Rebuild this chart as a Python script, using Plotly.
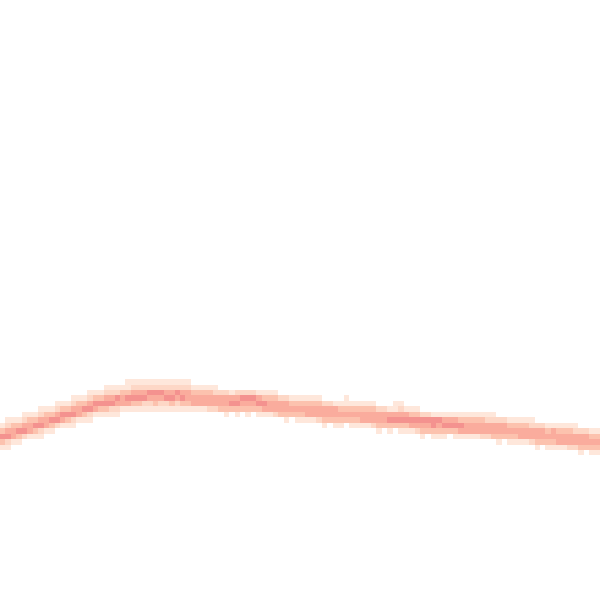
import plotly.graph_objects as go

# Grid of density cells (110 x 110)
n_cols = 110
n_rows = 110

# Row (from top) of the band centre for each column
band_center_row = (
    [78, 78, 77, 77, 77, 76, 76, 76, 75, 75, 75, 74, 74, 74, 73, 73, 73,
     72, 72, 72, 72, 72]
    + [71] * 18            # columns 22-39
    + [72] * 11            # columns 40-50
    + [73] * 8             # columns 51-58
    + [74] * 10            # columns 59-68
    + [75] * 8             # columns 69-76
    + [76] * 14            # columns 77-90
    + [77] * 7             # columns 91-97
    + [78] * 8             # columns 98-105
    + [79] * 4             # columns 106-109
)

# Density level (0 = empty, 1..5) for rows centre-3 .. centre+3 of each column
band_levels = [
    # columns 0-21 (rising part)
    "0135310", "1245210", "0134410", "0135310", "1245200", "0134410",
    "0135310", "1245210", "0134410", "0135310", "1245200", "0135410",
    "0135310", "1245210", "0134410", "0135310", "1245210", "0135410",
    "0135310", "1245310", "1245210", "1254210",
    # columns 22-39 (crest)
    "0134410", "1135410", "1245310", "1245310", "1245210", "1254210",
    "1254310", "1254210", "1245210", "1245310", "1254210", "1245310",
    "1244310", "0134410", "0134410", "0134410", "0134420", "0124420",
    # columns 40-50
    "0244300", "0244310", "0145300", "0245310", "0254300", "0254310",
    "0254300", "0145310", "0135410", "0134410", "0134420",
    # columns 51-58
    "0244300", "0244310", "0134300", "0134310", "0134310", "0134410",
    "0134410", "0134420",
    # columns 59-68
    "0244310", "0244300", "0144310", "0134310", "1134300", "0134310",
    "0134310", "0134410", "0134410", "0134420",
    # columns 69-76
    "0244310", "0244300", "0145310", "1145300", "1245310", "0145310",
    "0135410", "0135420",
    # columns 77-90
    "0254310", "0254300", "0155310", "0154310", "0145310", "0145300",
    "0145310", "0135410", "0134410", "0134410", "0134410", "0134420",
    "0124420", "0124430",
    # columns 91-97
    "0244310", "0244300", "0134310", "0134310", "0134410", "0134410",
    "0124420",
    # columns 98-105
    "0244310", "0244300", "0134310", "0144310", "0134410", "0134410",
    "0134420", "0124420",
    # columns 106-109
    "0244310", "0244300", "0134310", "0134310",
]

level_colors = [
    "rgb(254,231,219)",
    "rgb(253,215,198)",
    "rgb(252,194,174)",
    "rgb(250,172,157)",
    "rgb(244,146,143)",
]

z = [[None] * n_cols for _ in range(n_rows)]
for c, (centre, levels) in enumerate(zip(band_center_row, band_levels)):
    for k, ch in enumerate(levels):
        v = int(ch)
        r = centre - 3 + k
        if v > 0 and 0 <= r < n_rows:
            z[r][c] = v

colorscale = [[i / (len(level_colors) - 1), col] for i, col in enumerate(level_colors)]

fig = go.Figure(
    go.Heatmap(
        z=z,
        x=list(range(n_cols)),
        y=list(range(n_rows)),
        colorscale=colorscale,
        zmin=1,
        zmax=5,
        showscale=False,
        hoverongaps=False,
    )
)

fig.update_layout(
    width=600,
    height=600,
    margin=dict(l=0, r=0, t=0, b=0),
    paper_bgcolor="white",
    plot_bgcolor="white",
    xaxis=dict(visible=False, range=[-0.5, n_cols - 0.5]),
    yaxis=dict(visible=False, range=[n_rows - 2.0, -2.0]),
)

fig.write_html(
    "out.html",
    config={"displayModeBar": False},
    post_script="document.body.style.margin='0';",
)
